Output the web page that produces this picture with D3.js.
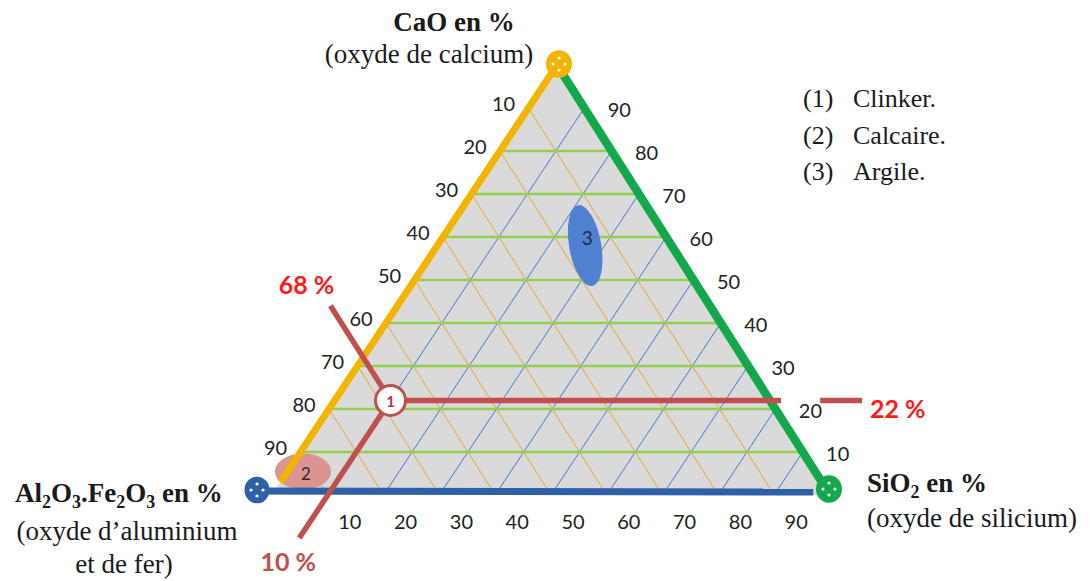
<!DOCTYPE html>
<html><head><meta charset="utf-8">
<script src="https://cdn.jsdelivr.net/npm/d3@7"></script>
<style>
html,body{margin:0;padding:0;background:#fff;}
svg{display:block;}
</style></head><body>
<svg id="chart" width="1091" height="581"></svg>
<script>
// ---------------- data ----------------
const caoGridLevels = [10,20,30,40,50,60,70,80];            // horizontal (CaO) lines
const alGridLevels  = [10,20,30,40,50,60,70,80,90];         // lines parallel to right side
const siGridLevels  = [10,20,30,40,50,60,70,80,90];         // lines parallel to left side
const alTicks  = [10,20,30,40,50,60,70,80,90];              // left side (top -> bottom)
const caoTicks = [90,80,70,60,50,40,30,20,10];              // right side (top -> bottom)
const siTicks  = [10,20,30,40,50,60,70,80,90];              // bottom side
// samples (CaO, SiO2, Al2O3.Fe2O3 in %)
const sampleNames = ["Clinker.","Calcaire.","Argile."];
const sampleIds   = ["1","2","3"];
const sampleCaO   = [22, 5, 58];
const sampleSiO2  = [10, 3, 26.5];
const sampleAl    = [68, 92, 15.5];
// reading lines for the clinker (ternary end points CaO, SiO2)
const readLabels  = ["68 %","22 %","10 %"];
const readFrom    = [[22,10],[22,10],[22,10]];
const readTo      = [[44,-12],[22,80],[-10,10]];
const extraSeg    = [[22,87],[22,94.5]];

// ---------------- layout ----------------
const svg = d3.select("#chart");
const T = {x:557,y:65}, L = {x:272,y:495}, R = {x:830,y:495};
const yS    = d3.scaleLinear().domain([0,100]).range([L.y, T.y]);     // CaO -> y
const xSi   = d3.scaleLinear().domain([0,100]).range([L.x, R.x]);     // SiO2 along base
const shear = d3.scaleLinear().domain([0,100]).range([0, T.x - L.x]); // CaO shear
const P = (ca, si) => [xSi(si) + shear(ca), yS(ca)];
const line = d3.line();

const COL = {yellow:"#f3b400", green:"#13a84b", blue:"#2d60a6", red:"#c0504d",
             gridG:"#92d050", gridT:"#e0b060", gridB:"#4677c6", gray:"#dadada"};

const tri = [P(100,0), P(0,0), P(0,100)];
svg.append("clipPath").attr("id","triClip").append("path").attr("d", line(tri)+"Z");
svg.append("clipPath").attr("id","baseClip").append("rect")
  .attr("x",0).attr("y",0).attr("width",1091).attr("height",P(0,0)[1]-6);

// gray background
svg.append("path").attr("d", line(tri)+"Z").attr("fill", COL.gray);

const grid = svg.append("g").attr("clip-path","url(#triClip)");
// tan lines: constant Al (parallel to right side)
grid.selectAll(".gt").data(alGridLevels).join("path")
  .attr("d", a => line([P(100-a,0), P(0,100-a)]))
  .attr("stroke", COL.gridT).attr("stroke-width",1.2).attr("fill","none");
// blue thin lines: constant SiO2 (parallel to left side)
grid.selectAll(".gb").data(siGridLevels).join("path")
  .attr("d", s => line([P(100-s,s), P(0,s)]))
  .attr("stroke", COL.gridB).attr("stroke-width",1).attr("fill","none");
// green horizontal lines: constant CaO
grid.selectAll(".gg").data(caoGridLevels).join("path")
  .attr("d", c => line([P(c,0), P(c,100-c)]))
  .attr("stroke", COL.gridG).attr("stroke-width",2.5).attr("fill","none");

// sample 2 : calcaire blob
const p2 = P(sampleCaO[1], sampleSiO2[1]);
svg.append("ellipse").attr("clip-path","url(#baseClip)")
  .attr("cx", p2[0]).attr("cy", p2[1]-2).attr("rx", 28).attr("ry", 18)
  .attr("fill", "#da9591");
svg.append("text").attr("x", p2[0]+3).attr("y", p2[1])
  .attr("text-anchor","middle").attr("dominant-baseline","central")
  .attr("font-family","Lato, 'Liberation Sans', sans-serif").attr("font-size",17)
  .attr("fill","#3a2626").text(sampleIds[1]);

// frame edges
svg.append("path").attr("d", line([P(100,0), P(3,0)]))
  .attr("stroke", COL.yellow).attr("stroke-width",7).attr("fill","none");
svg.append("path").attr("d", line([P(100,0), P(0,100)]))
  .attr("stroke", COL.green).attr("stroke-width",8.5).attr("fill","none");
const b0 = P(0,0), b1 = P(0,97);
svg.append("path").attr("d", line([[b0[0]-15, b0[1]-4],[b1[0], b1[1]-3]]))
  .attr("stroke", COL.blue).attr("stroke-width",7).attr("fill","none");

// sample 3 : argile
const p3 = P(sampleCaO[2], sampleSiO2[2]);
svg.append("ellipse").attr("cx",0).attr("cy",0).attr("rx",16).attr("ry",41)
  .attr("transform",`translate(${p3[0]},${p3[1]}) rotate(-10)`)
  .attr("fill","#4f81d0");
svg.append("text").attr("x", p3[0]+2).attr("y", p3[1]-8)
  .attr("text-anchor","middle").attr("dominant-baseline","central")
  .attr("font-family","Lato, 'Liberation Sans', sans-serif").attr("font-size",19)
  .attr("fill","#1c2a4a").text(sampleIds[2]);

// reading lines (clinker)
readFrom.forEach((f,i) => {
  svg.append("path").attr("d", line([P(f[0],f[1]), P(readTo[i][0], readTo[i][1])]))
    .attr("stroke", COL.red).attr("stroke-width",5.5).attr("fill","none");
});
svg.append("path").attr("d", line(extraSeg.map(d => P(d[0],d[1]))))
  .attr("stroke", COL.red).attr("stroke-width",5.5).attr("fill","none");

// sample 1 : clinker marker
const p1 = P(sampleCaO[0], sampleSiO2[0]);
svg.append("circle").attr("cx",p1[0]).attr("cy",p1[1]).attr("r",15)
  .attr("fill","#fff").attr("stroke",COL.red).attr("stroke-width",3);
svg.append("text").attr("x",p1[0]).attr("y",p1[1]+1)
  .attr("text-anchor","middle").attr("dominant-baseline","central")
  .attr("font-family","Lato, 'Liberation Sans', sans-serif").attr("font-size",15).attr("font-weight","bold")
  .attr("fill","#c0304d").text(sampleIds[0]);

// red reading labels
const sans = "Lato, 'Liberation Sans', sans-serif";
const e0 = P(readTo[0][0], readTo[0][1]);
const e1 = P(extraSeg[1][0], extraSeg[1][1]);
const e2 = P(readTo[2][0], readTo[2][1]);
const redLbl = [
  {x:e0[0]-24, y:e0[1]-12, a:"middle", c:"#ff1a1a"},
  {x:e1[0]+8,  y:e1[1]+18, a:"start",  c:"#ff1a1a"},
  {x:e2[0]-11, y:e2[1]+33, a:"middle", c:"#c0504d"}];
redLbl.forEach((d,i) => svg.append("text").attr("x",d.x).attr("y",d.y)
  .attr("text-anchor",d.a).attr("font-family",sans).attr("font-weight","bold")
  .attr("font-size",25).attr("fill",d.c).text(readLabels[i]));

// vertex markers
function vmark(cx, cy, r, col){
  const g = svg.append("g").attr("transform",`translate(${cx},${cy})`);
  g.append("ellipse").attr("rx",r).attr("ry",r+0.8).attr("fill",col);
  [[0,-6],[-6,0],[6,0],[0,6]].forEach(o => g.append("circle")
    .attr("cx",o[0]).attr("cy",o[1]).attr("r",1.6).attr("fill","#fff"));
}
const vT = P(100,0), vL = P(0,0), vR = P(0,100);
vmark(vT[0]+2, vT[1]-1, 13, COL.yellow);
vmark(vL[0]-15, vL[1]-5, 12.5, COL.blue);
vmark(vR[0]-1, vR[1]-6, 13, COL.green);

// tick labels
const tick = svg.append("g").attr("font-family",sans).attr("font-size",20)
  .attr("fill","#222").attr("text-anchor","middle").attr("dominant-baseline","central");
tick.selectAll(".tl").data(alTicks).join("text")
  .attr("x", a => P(100-a,0)[0]-25).attr("y", a => P(100-a,0)[1]-5).text(d => d);
tick.selectAll(".tr").data(caoTicks).join("text")
  .attr("x", c => P(c,100-c)[0]+35).attr("y", c => P(c,100-c)[1]+1).text(d => d);
tick.selectAll(".tb").data(siTicks).join("text")
  .attr("x", s => P(0,s)[0]+22).attr("y", s => P(0,s)[1]+26).text(d => d);

// axis titles
const serif = "'Liberation Serif', 'Times New Roman', serif";
const tt = svg.append("g").attr("font-family",serif).attr("font-size",27).attr("fill","#1a1a1a");
tt.append("text").attr("x",454).attr("y",31).attr("text-anchor","middle").attr("font-weight","bold").text("CaO en %");
tt.append("text").attr("x",429).attr("y",63).attr("text-anchor","middle").text("(oxyde de calcium)");

const al = tt.append("text").attr("x",15).attr("y",502).attr("font-weight","bold");
[["Al",0],["2",1],["O",0],["3",1],[".Fe",0],["2",1],["O",0],["3",1],[" en %",0]].forEach(([s,sub],i,arr) => {
  const prevSub = i>0 ? arr[i-1][1] : 0;
  const t = al.append("tspan").text(s);
  if (sub) t.attr("font-size",18).attr("dy",6);
  else if (prevSub) t.attr("dy",-6);
});
tt.append("text").attr("x",127).attr("y",540).attr("text-anchor","middle").text("(oxyde d’aluminium");
tt.append("text").attr("x",124).attr("y",573).attr("text-anchor","middle").text("et de fer)");

const si = tt.append("text").attr("x",867).attr("y",492).attr("font-weight","bold");
si.append("tspan").text("SiO");
si.append("tspan").attr("font-size",18).attr("dy",6).text("2");
si.append("tspan").attr("dy",-6).text(" en %");
tt.append("text").attr("x",867).attr("y",527).text("(oxyde de silicium)");

// legend
const lg = svg.append("g").attr("font-family",serif).attr("font-size",26).attr("fill","#1a1a1a");
sampleNames.forEach((n,i) => {
  lg.append("text").attr("x",803).attr("y",107+i*36.5).text(`(${sampleIds[i]})`);
  lg.append("text").attr("x",853).attr("y",107+i*36.5).text(n);
});
</script>
</body></html>
